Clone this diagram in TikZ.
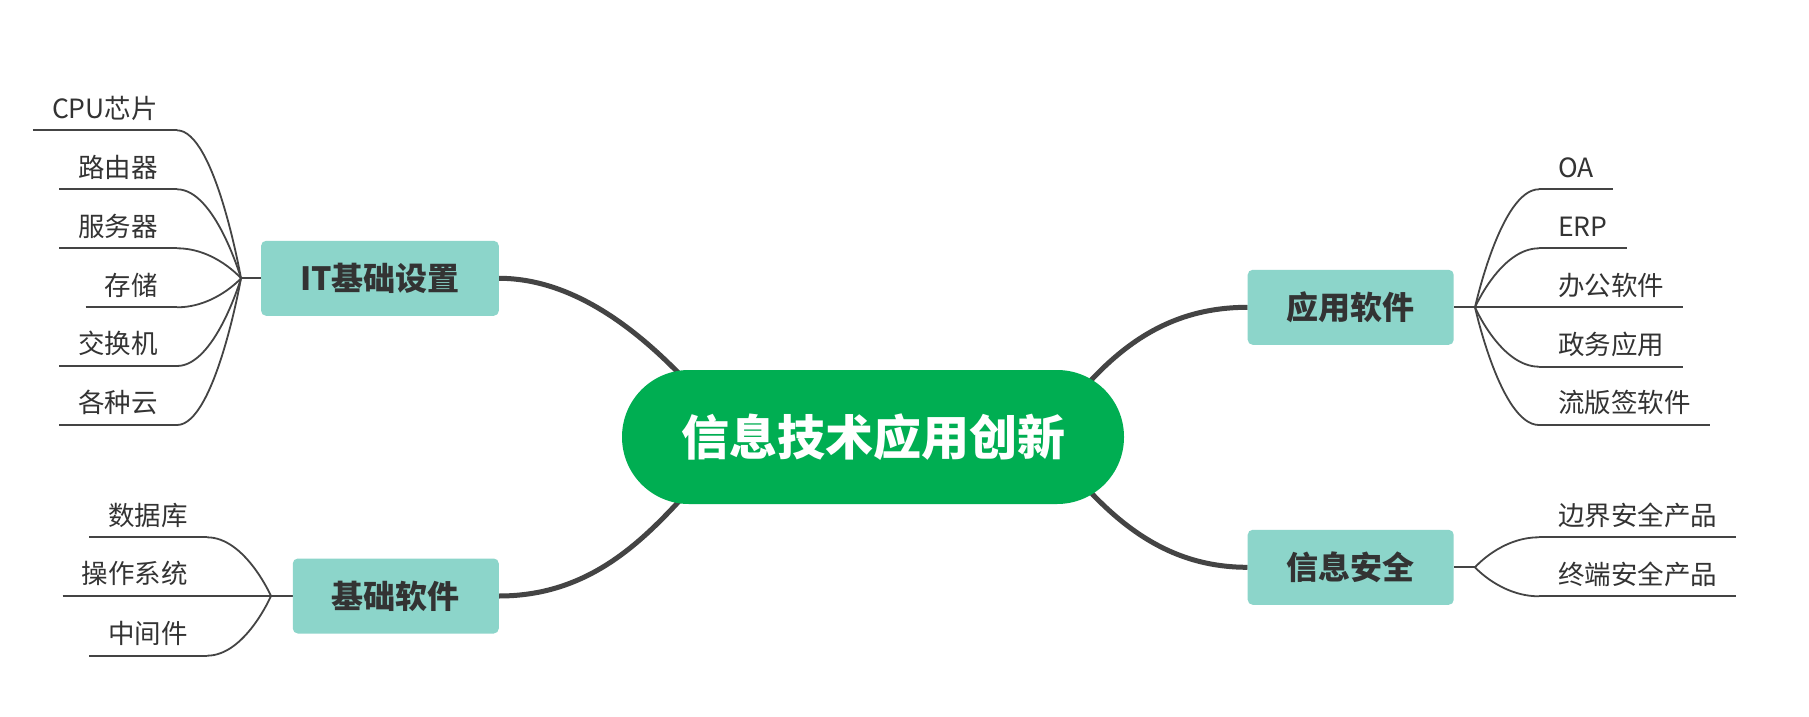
\documentclass[tikz,border=0pt]{standalone}
\usepackage{fontspec}
\setmainfont{Noto Sans CJK SC}
\usetikzlibrary{calc,backgrounds}
\definecolor{linegray}{HTML}{444444}
\definecolor{textgray}{HTML}{333333}
\definecolor{boxteal}{HTML}{8CD5CA}
\definecolor{rootgreen}{HTML}{00AE52}
\begin{document}
\begin{tikzpicture}[x=1pt,y=-1pt,
  root/.style={fill=rootgreen, text=white, font=\fontsize{48}{54}\selectfont\bfseries,
    minimum width=502pt, minimum height=134pt, rounded corners=66.9pt, inner sep=0pt},
  topic/.style={fill=boxteal, text=textgray, font=\fontsize{32}{36}\selectfont\bfseries,
    minimum height=75pt, inner xsep=39pt, inner ysep=0pt, rounded corners=5pt},
  leafL/.style={anchor=south east, text=textgray, font=\fontsize{26.5}{30}\selectfont,
    inner xsep=19pt, inner ysep=0pt, text depth=12pt},
  leafR/.style={leafL, anchor=south west},
  mainline/.style={draw=linegray, line width=5pt},
  subline/.style={draw=linegray, line width=1.8pt},
]
\useasboundingbox (0,0) rectangle (1809,717);

% central and main topics
\node[root] (root) at (873,437) {信息技术应用创新};
\node[topic, anchor=east] (it) at (499,278.3) {IT基础设置};
\node[topic, anchor=east] (jc) at (499,596) {基础软件};
\node[topic, anchor=west] (yy) at (1247.5,307.3) {应用软件};
\node[topic, anchor=west] (aq) at (1247.5,567.3) {信息安全};

% junctions
\coordinate (jit) at (241,278.3);
\coordinate (jjc) at (271,596);
\coordinate (jyy) at (1475,307.3);
\coordinate (jaq) at (1475,567.3);

% ends of main branches (hidden under the root)
\coordinate (eit) at ($(root.center)+(-173,-41)$);
\coordinate (ejc) at ($(root.center)+(-173,41)$);
\coordinate (eyy) at ($(root.center)+(189,-22)$);
\coordinate (eaq) at ($(root.center)+(189,22)$);

% leaves
\node[leafL] (it1) at (177,130.3) {CPU芯片};
\node[leafL] (it2) at (177,189.3) {路由器};
\node[leafL] (it3) at (177,248.3) {服务器};
\node[leafL] (it4) at (177,307.3) {存储};
\node[leafL] (it5) at (177,366) {交换机};
\node[leafL] (it6) at (177,425) {各种云};

\node[leafL] (jc1) at (207,537.3) {数据库};
\node[leafL] (jc2) at (207,596) {操作系统};
\node[leafL] (jc3) at (207,655.7) {中间件};

\node[leafR] (yy1) at (1539,189.3) {OA};
\node[leafR] (yy2) at (1539,248.3) {ERP};
\node[leafR] (yy3) at (1539,307.3) {办公软件};
\node[leafR] (yy4) at (1539,366.7) {政务应用};
\node[leafR] (yy5) at (1539,425) {流版签软件};

\node[leafR] (aq1) at (1539,537.3) {边界安全产品};
\node[leafR] (aq2) at (1539,596.3) {终端安全产品};

\begin{scope}[on background layer]
  \fill[white] (0,0) rectangle (1809,717);
  % main branches
  \draw[mainline] (it.east) .. controls (580,278.3) and (650,340) .. (eit);
  \draw[mainline] (jc.east) .. controls (595,596) and (650,534) .. (ejc);
  \draw[mainline] (yy.west) .. controls (1170,307.3) and (1115,345) .. (eyy);
  \draw[mainline] (aq.west) .. controls (1170,567.3) and (1115,526) .. (eaq);
  % stubs
  \draw[subline] (it.west) -- (jit);
  \draw[subline] (jc.west) -- (jjc);
  \draw[subline] (yy.east) -- (jyy);
  \draw[subline] (aq.east) -- (jaq);
  % left leaves
  \foreach \n in {it1,it2,it3,it4,it5,it6}{
    \draw[subline] (\n.south west) -- (\n.south east);
    \draw[subline] (jit) .. controls (jit) and ($(\n.south east)+(38,0)$) .. (\n.south east);
  }
  \foreach \n in {jc1,jc2,jc3}{
    \draw[subline] (\n.south west) -- (\n.south east);
    \draw[subline] (jjc) .. controls (jjc) and ($(\n.south east)+(38,0)$) .. (\n.south east);
  }
  % right leaves
  \foreach \n in {yy1,yy2,yy3,yy4,yy5}{
    \draw[subline] (\n.south west) -- (\n.south east);
    \draw[subline] (jyy) .. controls (jyy) and ($(\n.south west)+(-38,0)$) .. (\n.south west);
  }
  \foreach \n in {aq1,aq2}{
    \draw[subline] (\n.south west) -- (\n.south east);
    \draw[subline] (jaq) .. controls (jaq) and ($(\n.south west)+(-38,0)$) .. (\n.south west);
  }
\end{scope}
\end{tikzpicture}
\end{document}
